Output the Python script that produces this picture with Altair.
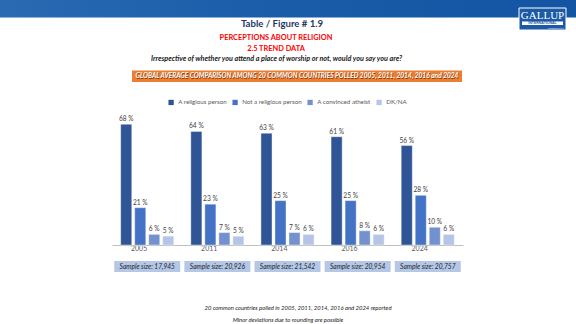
import altair as alt
import pandas as pd

years = ["2005", "2011", "2014", "2016", "2024"]
categories = ["A religious person", "Not a religious person", "A convinced atheist", "DK/NA"]
religious = [68, 64, 63, 61, 56]
not_religious = [21, 23, 25, 25, 28]
atheist = [6, 7, 7, 8, 10]
dk_na = [5, 5, 6, 6, 6]
sample_sizes = ["17,945", "20,926", "21,542", "20,954", "20,757"]
colors = ["#2F5597", "#4472C4", "#7391CF", "#B4C5E8"]

series = [religious, not_religious, atheist, dk_na]
rows = []
for ci, cat in enumerate(categories):
    for yi, yr in enumerate(years):
        rows.append({"year": yr, "cat": cat, "order": ci, "value": series[ci][yi],
                     "label": f"{series[ci][yi]} %"})
df = pd.DataFrame(rows)
samples = pd.DataFrame({"year": years, "text": [f"Sample size: {s}" for s in sample_sizes]})
one = pd.DataFrame({"k": [0]})

FONT = "Lato"
OX, OY = 112, 103  # plot origin on the page

def px(v):
    return alt.value(v - OX)

def py(v):
    return alt.value(v - OY)

xscale = alt.Scale(domain=years, paddingInner=0.243, paddingOuter=0.124)
yscale = alt.Scale(domain=[0, 80])
offscale = alt.Scale(domain=categories, paddingInner=0.21, paddingOuter=0)

bars = alt.Chart(df).mark_bar(stroke="white", strokeWidth=0.4).encode(
    x=alt.X("year:N", scale=xscale, sort=years,
            axis=alt.Axis(title=None, ticks=False, labelAngle=0, labelFont=FONT,
                          labelFontSize=7, labelColor="#595959", domainColor="#BFBFBF",
                          domainWidth=1, labelPadding=3, grid=False)),
    xOffset=alt.XOffset("cat:N", sort=categories, scale=offscale),
    y=alt.Y("value:Q", scale=yscale, axis=None),
    color=alt.Color("cat:N", sort=categories,
                    scale=alt.Scale(domain=categories, range=colors),
                    legend=alt.Legend(title=None, orient="none", direction="horizontal",
                                      legendX=170 - OX - 2, legendY=-4,
                                      symbolType="square", symbolSize=28,
                                      symbolStrokeWidth=0, labelFont=FONT,
                                      labelFontSize=6.2, labelColor="#595959",
                                      columnPadding=5, labelOffset=4, symbolOffset=0)),
)

labels = alt.Chart(df).mark_text(dy=-5, font=FONT, fontSize=6.6, color="#404040").encode(
    x=alt.X("year:N", scale=xscale, sort=years),
    xOffset=alt.XOffset("cat:N", sort=categories, scale=offscale),
    y=alt.Y("value:Q", scale=yscale),
    text="label:N",
)

sample_box = alt.Chart(samples).mark_bar(size=66, color="#B4C7E7").encode(
    x=alt.X("year:N", scale=xscale, sort=years),
    y=py(261), y2=py(272),
)
sample_text = alt.Chart(samples).mark_text(font=FONT, fontSize=6.6, fontStyle="italic",
                                           color="#1F1F1F").encode(
    x=alt.X("year:N", scale=xscale, sort=years),
    y=py(266.5),
    text="text:N",
)

# header banner
banner = alt.Chart(one).mark_rect(
    color=alt.Gradient(gradient="linear", x1=0, x2=1, y1=0, y2=0,
                       stops=[alt.GradientStop(color="#2A6AB3", offset=0),
                              alt.GradientStop(color="#1A5CA8", offset=0.5),
                              alt.GradientStop(color="#1455A3", offset=1)])
).encode(x=px(0), x2=px(576), y=py(0), y2=py(17.5))

logo_box = alt.Chart(one).mark_rect(color="#1C5AA6", stroke="white", strokeWidth=1).encode(
    x=px(519), x2=px(566), y=py(8), y2=py(30))
logo_band = alt.Chart(one).mark_rect(color="white").encode(
    x=px(522), x2=px(563), y=py(21.5), y2=py(25))
logo_text = alt.Chart(one).mark_text(text="GALLUP", font="Liberation Serif", fontSize=11,
                                     color="white").encode(x=px(542.5), y=py(16))
logo_sub = alt.Chart(one).mark_text(text="INTERNATIONAL", font="Liberation Sans", fontSize=3.5,
                                    fontWeight="bold", color="#1C5AA6").encode(
    x=px(542.5), y=py(23.4))
logo_sub2 = alt.Chart(one).mark_text(text="founded 1947", font="Liberation Sans", fontSize=2.5,
                                     color="white").encode(x=px(556), y=py(28))

title = alt.Chart(one).mark_text(text="Table / Figure # 1.9", font=FONT, fontSize=9.6,
                                 fontWeight="bold", color="#1F3864").encode(x=px(282), y=py(23.5))
t2 = alt.Chart(one).mark_text(text="PERCEPTIONS ABOUT RELIGION", font=FONT, fontSize=7.4,
                              fontWeight="bold", color="#FF0000").encode(x=px(276), y=py(38))
t3 = alt.Chart(one).mark_text(text="2.5 TREND DATA", font=FONT, fontSize=7.4,
                              fontWeight="bold", color="#FF0000").encode(x=px(276), y=py(48.5))
q = alt.Chart(one).mark_text(
    text="Irrespective of whether you attend a place of worship or not, would you say you are?",
    font=FONT, fontSize=7.2, fontWeight="bold", fontStyle="italic", color="#1A1A1A"
).encode(x=px(276.5), y=py(58.5))

otext = "GLOBAL AVERAGE COMPARISON AMONG 20 COMMON COUNTRIES POLLED 2005, 2011, 2014, 2016 and 2024"
orange = alt.Chart(one).mark_rect(color="#ED7D31").encode(
    x=px(132), x2=px(462), y=py(70.5), y2=py(82))
orange_shadow = alt.Chart(one).mark_text(
    text=otext, font=FONT, fontSize=6.6, fontWeight="bold", fontStyle="italic", color="#7A3A10"
).encode(x=px(297.5), y=py(76.8))
orange_text = alt.Chart(one).mark_text(
    text=otext, font=FONT, fontSize=6.6, fontWeight="bold", fontStyle="italic", color="white"
).encode(x=px(297), y=py(76.3))

foot1 = alt.Chart(one).mark_text(
    text="20 common countries polled in 2005, 2011, 2014, 2016 and 2024 reported",
    font=FONT, fontSize=5.9, fontStyle="italic", color="#1A1A1A").encode(x=px(298), y=py(307.5))
foot2 = alt.Chart(one).mark_text(
    text="Minor deviations due to rounding are possible",
    font=FONT, fontSize=5.9, fontStyle="italic", color="#1A1A1A").encode(x=px(288), y=py(319.5))

chart = alt.layer(
    banner, logo_box, logo_band, logo_text, logo_sub, logo_sub2,
    title, t2, t3, q, orange, orange_shadow, orange_text,
    sample_box, sample_text, bars, labels, foot1, foot2,
).properties(
    width=351, height=142,
    autosize=alt.AutoSizeParams(type="none"),
    padding={"left": OX, "top": OY, "right": 576 - 463, "bottom": 324 - 245},
    background="white",
).configure_view(stroke=None)

chart.save("out.html", embed_options={"renderer": "svg", "actions": False})
